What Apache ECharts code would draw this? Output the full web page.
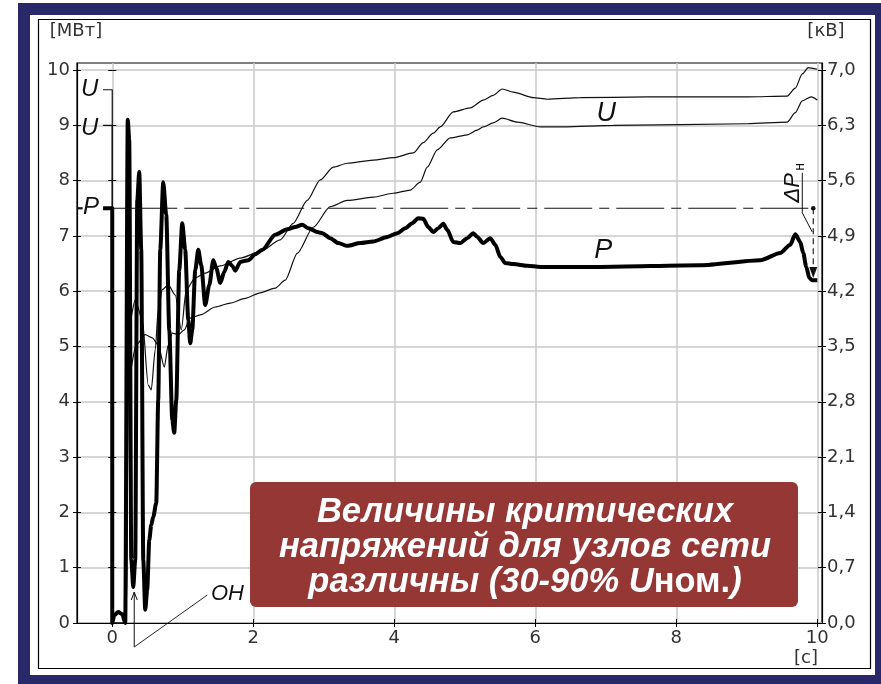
<!DOCTYPE html>
<html>
<head>
<meta charset="utf-8">
<title>P, U</title>
<script src="https://cdn.jsdelivr.net/npm/echarts@6/dist/echarts.min.js"></script>
<style>
  html, body { margin: 0; padding: 0; background: #fff; }
  #chart { width: 881px; height: 684px; }
</style>
</head>
<body>
<div id="chart"></div>
<script>
// Active power P, MW (thick trace)
const powerTime = [-0.13, 0, 0, 0.028, 0.085, 0.142, 0.184, 0.22, 0.241, 0.27, 0.298, 0.326, 0.355, 0.383, 0.411, 0.44, 0.468, 0.496, 0.525, 0.553, 0.582, 0.624, 0.652, 0.681, 0.723, 0.766, 0.809, 0.851, 0.879, 0.908, 0.95, 0.993, 1.035, 1.078, 1.106, 1.135, 1.177, 1.22, 1.262, 1.319, 1.376, 1.433, 1.475, 1.532, 1.589, 1.645, 1.702, 1.745, 1.816, 1.887, 1.93, 2.028, 2.128, 2.312, 2.482, 2.596, 2.695, 2.78, 2.908, 2.979, 3.092, 3.206, 3.333, 3.518, 3.702, 3.901, 4.043, 4.156, 4.255, 4.34, 4.411, 4.482, 4.553, 4.624, 4.695, 4.752, 4.837, 4.936, 5.035, 5.121, 5.177, 5.262, 5.362, 5.433, 5.504, 5.574, 5.688, 5.887, 6.071, 6.922, 8.34, 9.191, 9.475, 9.617, 9.688, 9.759, 9.801, 9.844, 9.887, 9.929, 10.0];
const powerMW = [7.5, 7.5, 0, 0.14, 0.2, 0.16, 0, 9.1, 8.73, 1.14, 0.65, 1.14, 7.65, 8.16, 6.75, 1.14, 0.24, 0.6, 1.5, 1.77, 1.92, 2.17, 4.03, 6.75, 7.97, 7.38, 5.3, 3.67, 3.44, 4.03, 6.38, 7.23, 6.75, 5.48, 5.06, 5.3, 6.38, 6.75, 6.47, 5.75, 6.11, 6.56, 6.42, 6.15, 6.35, 6.53, 6.46, 6.37, 6.53, 6.55, 6.56, 6.67, 6.75, 7.02, 7.12, 7.16, 7.2, 7.14, 7.07, 7.05, 6.96, 6.87, 6.82, 6.87, 6.9, 6.98, 7.05, 7.14, 7.23, 7.32, 7.31, 7.16, 7.07, 7.14, 7.22, 7.11, 6.89, 6.87, 6.96, 7.05, 6.98, 6.87, 6.96, 6.84, 6.62, 6.51, 6.49, 6.46, 6.44, 6.44, 6.47, 6.56, 6.69, 6.84, 7.03, 6.89, 6.69, 6.44, 6.24, 6.2, 6.2];

// Node voltage U, kV (upper thin trace)
const voltUpperTime = [-0.13, 0, 0, 0.199, 0.227, 0.326, 0.426, 0.511, 0.553, 0.61, 0.652, 0.709, 0.794, 0.894, 0.979, 1.05, 1.177, 1.319, 1.532, 1.816, 2.099, 2.383, 2.567, 2.766, 2.95, 3.135, 3.333, 3.702, 3.986, 4.27, 4.411, 4.553, 4.652, 4.837, 5.078, 5.262, 5.404, 5.532, 5.688, 5.972, 6.17, 6.638, 7.589, 9.007, 9.574, 9.688, 9.787, 9.872, 10.0];
const voltUpperKV = [6.75, 6.75, 0, 0, 3.71, 4.09, 3.84, 3.01, 2.95, 3.46, 3.96, 4.22, 4.28, 4.15, 3.71, 4.22, 4.37, 4.43, 4.52, 4.62, 4.7, 4.85, 5.06, 5.35, 5.61, 5.77, 5.82, 5.86, 5.89, 5.95, 6.08, 6.2, 6.28, 6.47, 6.52, 6.62, 6.68, 6.76, 6.72, 6.65, 6.63, 6.65, 6.66, 6.66, 6.67, 6.77, 6.95, 7.03, 7.01];

// Node voltage U, kV (lower thin trace)
const voltLowerTime = [-0.13, 0, 0, 0.199, 0.227, 0.34, 0.468, 0.567, 0.652, 0.738, 0.794, 0.851, 0.936, 1.021, 1.106, 1.248, 1.461, 1.674, 1.887, 2.099, 2.312, 2.454, 2.624, 2.851, 3.092, 3.333, 3.702, 3.986, 4.227, 4.369, 4.468, 4.61, 4.794, 5.035, 5.177, 5.262, 5.404, 5.532, 5.745, 6.071, 6.397, 7.106, 9.007, 9.574, 9.688, 9.787, 9.915, 10.0];
const voltLowerKV = [6.3, 6.3, 0, 0, 3.08, 3.52, 3.65, 3.61, 3.52, 3.24, 3.52, 3.67, 3.65, 3.71, 3.86, 3.9, 4.0, 4.05, 4.11, 4.18, 4.24, 4.34, 4.68, 5.01, 5.27, 5.35, 5.39, 5.44, 5.48, 5.58, 5.77, 5.99, 6.14, 6.18, 6.24, 6.28, 6.33, 6.39, 6.34, 6.28, 6.28, 6.3, 6.32, 6.34, 6.46, 6.61, 6.66, 6.62];

// Tick labels
const timeTicks = [0, 2, 4, 6, 8, 10];
const powerTicks = [0, 1, 2, 3, 4, 5, 6, 7, 8, 9, 10];
const voltTicks = [0, 0.7, 1.4, 2.1, 2.8, 3.5, 4.2, 4.9, 5.6, 6.3, 7.0];

// Reference levels
const preFaultPowerMW = 7.5;
const settledPowerMW = 6.24;
const faultEndTime = 0.312;

// Both vertical scales share one frame: 1 kV on the right equals 1/0.7 MW on the left
const KV_PER_MW = 0.7;
const powerMax = 10.127;
const voltMax = powerMax * KV_PER_MW;
const timeMin = -0.5;
const timeMax = 10.067;

const INK = '#111';
const LABEL_FONT = 'DejaVu Sans';
const LABEL_SIZE = 18;
const NOTE_FONT = 'Liberation Sans';

const zip = (xs, ys) => xs.map((x, i) => [x, ys[i]]);
const kvFmt = v => (Math.round(v * 10) / 10).toFixed(1).replace('.', ',');
const onTick = (ticks, v) => ticks.some(t => Math.abs(t - v) < 1e-6);

const chart = echarts.init(document.getElementById('chart'), null, { renderer: 'canvas' });

// Axis that only draws tick marks (used to get ticks on both sides of a line)
function tickOnly(base, inside) {
  return Object.assign({}, base, {
    axisLabel: { show: false },
    axisLine: { show: false, onZero: false },
    splitLine: { show: false },
    axisTick: Object.assign({ show: true, inside: inside, length: 4, lineStyle: { color: '#000', width: 1 } },
      base.axisTick && base.axisTick.customValues ? { customValues: base.axisTick.customValues } : {})
  });
}

const leftPower = {
  type: 'value', gridIndex: 0, position: 'left', min: 0, max: powerMax, interval: 1,
  axisLine: { show: true, onZero: false, lineStyle: { color: '#000', width: 1.2 } },
  axisTick: { show: true, length: 4, customValues: powerTicks, lineStyle: { color: '#000' } },
  axisLabel: {
    customValues: powerTicks, margin: 7,
    fontFamily: LABEL_FONT, fontSize: LABEL_SIZE, color: '#333',
    formatter: v => (onTick(powerTicks, v) ? String(v) : '')
  },
  splitLine: { show: true, lineStyle: { color: '#c9c9c9', width: 1.5 } }
};
const rightVolt = {
  type: 'value', gridIndex: 0, position: 'right', min: 0, max: voltMax, interval: 0.7,
  axisLine: { show: true, onZero: false, lineStyle: { color: '#000', width: 1.2 } },
  axisTick: { show: true, length: 4, customValues: voltTicks, lineStyle: { color: '#000' } },
  axisLabel: {
    customValues: voltTicks, margin: 5,
    fontFamily: LABEL_FONT, fontSize: LABEL_SIZE, color: '#333',
    formatter: v => (onTick(voltTicks, v) ? kvFmt(v) : '')
  },
  splitLine: { show: false }
};
const zeroRuler = {
  type: 'value', gridIndex: 1, position: 'left', min: 0, max: powerMax, interval: 1,
  axisTick: { customValues: powerTicks }
};
const timeAxis = {
  type: 'value', gridIndex: 1, position: 'bottom', min: 0, max: 10, interval: 2,
  axisLine: { show: false, onZero: false },
  axisTick: { show: true, length: 4, customValues: timeTicks, lineStyle: { color: '#000' } },
  axisLabel: {
    customValues: timeTicks, margin: 6,
    fontFamily: LABEL_FONT, fontSize: LABEL_SIZE, color: '#333'
  },
  splitLine: { show: true, lineStyle: { color: '#c9c9c9', width: 1.5 } }
};

// Annotation layer: level labels, set-point line, ΔPн arrow, fault marker
function renderNotes(params, api) {
  const c = (x, y) => api.coord([x, y]);
  const kv = v => v / KV_PER_MW;
  const kids = [];
  const line = (a, b, w, dash) => kids.push({
    type: 'line', shape: { x1: a[0], y1: a[1], x2: b[0], y2: b[1] },
    style: { stroke: INK, lineWidth: w, lineDash: dash || null }
  });
  const text = (s, p, size, align) => kids.push({
    type: 'text',
    style: { text: s, x: p[0], y: p[1], font: 'italic ' + size + 'px "' + NOTE_FONT + '"', fill: INK, align: align || 'center', verticalAlign: 'middle' }
  });

  // pre-fault levels at the left edge
  text('U', c(-0.32, kv(voltUpperKV[0])), 24);
  text('U', c(-0.32, kv(voltLowerKV[0]) - 0.05), 24);
  text('P', c(-0.30, preFaultPowerMW + 0.02), 24);
  line(c(-0.5, preFaultPowerMW), c(-0.42, preFaultPowerMW), 2.2);

  // pre-fault power set-point
  const endT = 9.943;
  line(c(0, preFaultPowerMW), c(endT, preFaultPowerMW), 1.2, [48, 7, 10, 7]);
  const dot = c(endT, preFaultPowerMW);
  kids.push({ type: 'circle', shape: { cx: dot[0], cy: dot[1], r: 2.3 }, style: { fill: INK } });

  // ΔPн: drop from the set-point to the settled power
  const tip = c(endT, settledPowerMW);
  line(dot, [tip[0], tip[1] - 9], 1.1, [6, 4]);
  kids.push({ type: 'polygon', shape: { points: [[tip[0], tip[1]], [tip[0] - 4, tip[1] - 11], [tip[0] + 4, tip[1] - 11]] }, style: { fill: INK } });
  const a = c(9.66, 7.87);
  kids.push({
    type: 'group', x: a[0], y: a[1], rotation: Math.PI / 2,
    children: [
      { type: 'text', style: { text: 'ΔP', x: 0, y: 0, font: 'italic 22px "' + NOTE_FONT + '"', fill: INK, align: 'center', verticalAlign: 'middle' } },
      { type: 'text', style: { text: 'н', x: 21, y: 7, font: '14px "' + NOTE_FONT + '"', fill: INK, align: 'center', verticalAlign: 'middle' } }
    ]
  });
  const ul0 = [a[0] + 9, a[1] + 25];
  line(ul0, [a[0] + 9, a[1] - 15], 1);
  line(ul0, c(9.929, 7.07), 1);

  // fault clearing marker "ОН"
  const base = c(faultEndTime, -0.434);
  const head = c(faultEndTime, 0.56);
  line(base, head, 1);
  kids.push({ type: 'polyline', shape: { points: [[head[0] - 3, head[1] + 8], head, [head[0] + 3, head[1] + 8]] }, style: { stroke: INK, lineWidth: 1, fill: null } });
  line(base, c(1.348, 0.506), 0.9);
  text('ОН', c(1.40, 0.52), 22, 'left');

  // curve names
  text('U', c(7.007, 9.22), 27);
  text('P', c(6.965, 6.73), 27);

  return { type: 'group', children: kids };
}

const option = {
  animation: false,
  backgroundColor: 'transparent',
  grid: [
    { left: 77, right: 59, top: 63, bottom: 61, show: true, borderColor: '#000', borderWidth: 1.2, backgroundColor: 'transparent' },
    { left: 112.25, right: 63.75, top: 63, bottom: 61 }
  ],
  xAxis: [
    {
      type: 'value', gridIndex: 0, min: timeMin, max: timeMax, position: 'bottom',
      axisLine: { show: true, onZero: false, lineStyle: { color: '#000', width: 1.2 } },
      axisTick: { show: false }, axisLabel: { show: false }, splitLine: { show: false }
    },
    timeAxis,
    tickOnly(timeAxis, true)
  ],
  yAxis: [
    leftPower,
    rightVolt,
    tickOnly(zeroRuler, false),
    tickOnly(zeroRuler, true),
    tickOnly(leftPower, true),
    tickOnly(rightVolt, true)
  ],
  graphic: [
    { type: 'rect', z: -100, shape: { x: 18, y: 3, width: 863, height: 681 }, style: { fill: '#29296a' } },
    { type: 'rect', z: -99, shape: { x: 30, y: 15, width: 845, height: 660 }, style: { fill: '#fff' } },
    { type: 'rect', z: -98, shape: { x: 38.5, y: 19.5, width: 832, height: 649 }, style: { fill: null, stroke: '#000', lineWidth: 1.2 } },
    { type: 'text', z: 5, style: { text: '[МВт]', x: 76, y: 31, font: '18px "' + LABEL_FONT + '"', fill: '#333', align: 'center', verticalAlign: 'middle' } },
    { type: 'text', z: 5, style: { text: '[кВ]', x: 826, y: 31, font: '18px "' + LABEL_FONT + '"', fill: '#333', align: 'center', verticalAlign: 'middle' } },
    { type: 'text', z: 5, style: { text: '[с]', x: 806, y: 658, font: '18px "' + LABEL_FONT + '"', fill: '#333', align: 'center', verticalAlign: 'middle' } },
    { type: 'rect', z: 100, shape: { x: 250, y: 482, width: 548, height: 125, r: 6 }, style: { fill: '#953735' } },
    {
      type: 'text', z: 101,
      style: {
        x: 525, y: 547, align: 'center', verticalAlign: 'middle',
        text: '{a|Величины критических}\n{a|напряжений для узлов сети}\n{a|различны (30-90% U}{b|ном.}{a|)}',
        rich: {
          a: { fontFamily: NOTE_FONT, fontSize: 34.5, fontStyle: 'italic', fontWeight: 'bold', fill: '#fff', lineHeight: 35 },
          b: { fontFamily: NOTE_FONT, fontSize: 34.5, fontStyle: 'normal', fontWeight: 'bold', fill: '#fff', lineHeight: 35 }
        }
      }
    }
  ],
  series: [
    {
      name: 'U1', type: 'line', xAxisIndex: 0, yAxisIndex: 1, data: zip(voltUpperTime, voltUpperKV),
      showSymbol: false, symbol: 'none', smooth: 0.25, smoothMonotone: 'x',
      lineStyle: { color: INK, width: 1.2 }, z: 3
    },
    {
      name: 'U2', type: 'line', xAxisIndex: 0, yAxisIndex: 1, data: zip(voltLowerTime, voltLowerKV),
      showSymbol: false, symbol: 'none', smooth: 0.25, smoothMonotone: 'x',
      lineStyle: { color: INK, width: 1.2 }, z: 3
    },
    {
      name: 'P', type: 'line', xAxisIndex: 0, yAxisIndex: 0, data: zip(powerTime, powerMW),
      showSymbol: false, symbol: 'none', smooth: 0.25, smoothMonotone: 'x',
      lineStyle: { color: '#000', width: 4, join: 'round' }, z: 4
    },
    {
      name: 'notes', type: 'custom', xAxisIndex: 0, yAxisIndex: 0, data: [[0, 0]],
      renderItem: renderNotes, clip: false, silent: true, z: 5
    }
  ]
};

chart.setOption(option);
</script>
</body>
</html>
